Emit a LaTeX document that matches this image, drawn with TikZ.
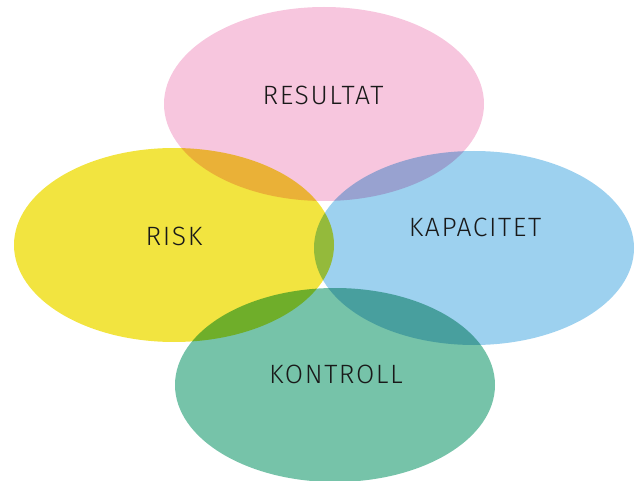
\documentclass[tikz,border=0pt]{standalone}
\usepackage{fontspec}
\setsansfont{Fira Sans Light}[LetterSpace=6]
\usepackage{tikz}
\usetikzlibrary{shapes.geometric, positioning}

\definecolor{rosa}{HTML}{F7C6DE}
\definecolor{gul}{HTML}{F2E440}
\definecolor{bla}{HTML}{9DD1EF}
\definecolor{gron}{HTML}{76C3A9}

\begin{document}
\begin{tikzpicture}[
    x=1pt, y=-1pt,
    % oval style
    oval/.style={
        ellipse,
        draw=none,
        minimum width=320pt,
        minimum height=194pt,
        inner sep=0pt
    },
    lbl/.style={
        font=\sffamily\fontsize{26.5}{28}\selectfont,
        text=black!90,
        inner sep=0pt
    }
]
    \useasboundingbox (0,0) rectangle (640,481);

    % Ovals - multiplied where they overlap
    \begin{scope}[blend group=multiply]
        \node[oval, fill=rosa] (resultat) at (324,104) {};
        \node[oval, fill=gul] (risk) at (174,245) {};
        \node[oval, fill=bla] (kapacitet) at (474,248) {};
        \node[oval, fill=gron] (kontroll) at (335,385) {};
    \end{scope}

    % Labels
    \node[lbl] (resultattext) at (323,95) {RESULTAT};
    \node[lbl] (risktext) at (174,236) {RISK};
    \node[lbl] (kapacitettext) at (475,227) {KAPACITET};
    \node[lbl] (kontrolltext) at (336,374) {KONTROLL};

\end{tikzpicture}
\end{document}
